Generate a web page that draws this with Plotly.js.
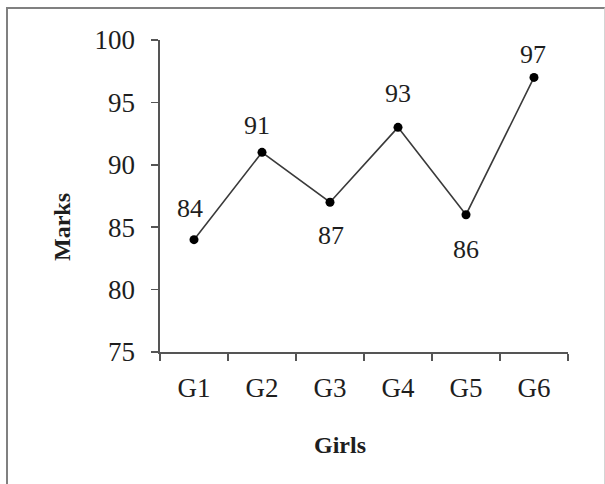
<!DOCTYPE html>
<html>
<head>
<meta charset="utf-8">
<script src="https://cdn.plot.ly/plotly-3.0.1.min.js"></script>
<style>
  html, body { margin: 0; padding: 0; background: #fff; }
  #wrap { position: relative; width: 605px; height: 484px; }
  #chart { width: 605px; height: 484px; }
  #frame { position: absolute; left: 6px; top: 7px; width: 596px; height: 475px;
           border-left: 2px solid #808080; border-top: 2px solid #808080;
           border-right: 1px solid #d4d4d4; border-bottom: 1px solid #d4d4d4;
           pointer-events: none; }
</style>
</head>
<body>
<div id="wrap">
  <div id="chart"></div>
  <div id="frame"></div>
</div>
<script>
// ---- data ----
const girls = ["G1", "G2", "G3", "G4", "G5", "G6"];
const marks = [84, 91, 87, 93, 86, 97];
const yTicks = [75, 80, 85, 90, 95, 100];
const xTitle = "Girls";
const yTitle = "Marks";

// ---- label placement (style only) ----
const labelShiftY = [31, 27, -33, 34, -35, 23];
const labelShiftX = [-4, -5, 1, 0, 0, -1];

const font = "Liberation Serif, Times New Roman, serif";

const trace = {
  x: girls,
  y: marks,
  type: "scatter",
  mode: "lines+markers",
  line: { color: "#3a3a3a", width: 1.6 },
  marker: { color: "#000", size: 9 },
  hoverinfo: "x+y"
};

const annotations = girls.map((g, i) => ({
  x: g, y: marks[i], xref: "x", yref: "y",
  text: String(marks[i]), showarrow: false,
  xanchor: "center", yanchor: "middle",
  xshift: labelShiftX[i], yshift: labelShiftY[i],
  font: { family: font, size: 26, color: "#1e1e1e" }
}));

// axis titles (placed as in the reference, off-centre)
annotations.push({
  xref: "paper", yref: "paper",
  x: (340 - 160) / 408, y: (352 - 445) / 312,
  xanchor: "center", yanchor: "middle",
  text: "<b>" + xTitle + "</b>", showarrow: false,
  font: { family: font, size: 24, color: "#1e1e1e" }
});
annotations.push({
  xref: "paper", yref: "paper",
  x: (62 - 160) / 408, y: (352 - 227) / 312,
  xanchor: "center", yanchor: "middle", textangle: -90,
  text: "<b>" + yTitle + "</b>", showarrow: false,
  font: { family: font, size: 24, color: "#1e1e1e" }
});

const layout = {
  width: 605, height: 484,
  margin: { l: 160, r: 37, t: 40, b: 132 },
  paper_bgcolor: "#fff", plot_bgcolor: "#fff",
  showlegend: false,
  font: { family: font, color: "#1e1e1e" },
  xaxis: {
    type: "category",
    range: [-0.5, 5.5],
    showgrid: false, zeroline: false,
    showline: true, linecolor: "#555", linewidth: 1.6,
    ticks: "outside", tickson: "boundaries", ticklen: 7, tickwidth: 1.6, tickcolor: "#555",
    ticklabelstandoff: 11,
    tickfont: { family: font, size: 27, color: "#1e1e1e" }
  },
  yaxis: {
    range: [75, 100],
    tickvals: yTicks,
    showgrid: false, zeroline: false,
    showline: true, linecolor: "#555", linewidth: 1.6,
    ticks: "outside", ticklen: 7, tickwidth: 1.6, tickcolor: "#555",
    ticklabelstandoff: 11,
    tickfont: { family: font, size: 27, color: "#1e1e1e" }
  },
  annotations: annotations
};

Plotly.newPlot("chart", [trace], layout, { displayModeBar: false, staticPlot: true });
</script>
</body>
</html>
